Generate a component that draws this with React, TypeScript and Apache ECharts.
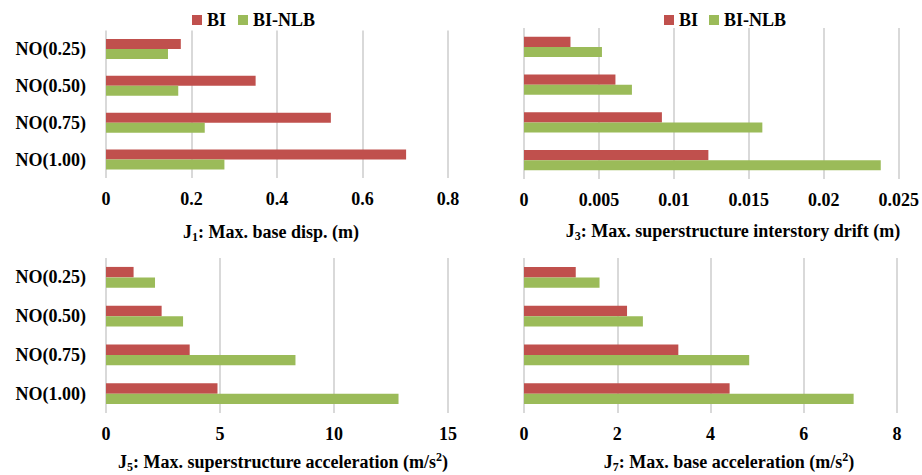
import React, { useEffect, useRef } from 'react';
import * as echarts from 'echarts';

const categories = ['NO(0.25)', 'NO(0.50)', 'NO(0.75)', 'NO(1.00)'];
const seriesNames = ['BI', 'BI-NLB'];
const j1BI = [0.175, 0.35, 0.526, 0.702];
const j1NLB = [0.145, 0.169, 0.231, 0.277];
const j3BI = [0.0031, 0.0061, 0.0092, 0.0123];
const j3NLB = [0.0052, 0.0072, 0.0159, 0.0238];
const j5BI = [1.21, 2.44, 3.67, 4.89];
const j5NLB = [2.15, 3.38, 8.31, 12.83];
const j7BI = [1.11, 2.21, 3.31, 4.41];
const j7NLB = [1.62, 2.55, 4.83, 7.07];
const axisMax = [0.8, 0.025, 15, 8];
const axisInterval = [0.2, 0.005, 5, 2];

const FONT = '"Liberation Serif", "Times New Roman", serif';
const RED = '#C0504D';
const GREEN = '#9BBB59';

export default function App() {
  const ref = useRef<HTMLDivElement>(null);
  useEffect(() => {
    document.body.style.margin = '0';
    const chart = echarts.init(ref.current!, null, { renderer: 'svg' });
    const grids = [
      { left: 106, right: 474, top: 30.5, height: 147.5 },
      { left: 524, right: 23, top: 28, height: 151 },
      { left: 106, right: 474, top: 258, height: 155 },
      { left: 524, right: 25, top: 258, height: 155 },
    ];
    const dataSets = [
      [j1BI, j1NLB],
      [j3BI, j3NLB],
      [j5BI, j5NLB],
      [j7BI, j7NLB],
    ];
    const labelStyle = { fontFamily: FONT, fontWeight: 'bold' as const, fontSize: 18, color: '#000' };
    const rich = {
      b: { ...labelStyle, lineHeight: 22 },
      sub: { fontFamily: FONT, fontWeight: 'bold' as const, fontSize: 12, color: '#000', lineHeight: 12, verticalAlign: 'bottom' as const },
      sup: { fontFamily: FONT, fontWeight: 'bold' as const, fontSize: 12, color: '#000', lineHeight: 12, verticalAlign: 'top' as const },
    };
    const titles = [
      { text: '{b|J}{sub|1}{b|: Max. base disp. (m)}', x: 271, y: 232 },
      { text: '{b|J}{sub|3}{b|: Max. superstructure interstory drift (m)}', x: 733, y: 231 },
      { text: '{b|J}{sub|5}{b|: Max. superstructure acceleration (m/s}{sup|2}{b|)}', x: 283, y: 462 },
      { text: '{b|J}{sub|7}{b|: Max. base acceleration (m/s}{sup|2}{b|)}', x: 729, y: 462 },
    ];
    const series: any[] = [];
    dataSets.forEach((pair, gi) => {
      pair.forEach((vals, si) => {
        series.push({
          type: 'bar',
          name: seriesNames[si],
          xAxisIndex: gi,
          yAxisIndex: gi,
          data: vals,
          barGap: '0%',
          barCategoryGap: '46%',
          itemStyle: { color: si === 0 ? RED : GREEN },
        });
      });
    });
    chart.setOption({
      animation: false,
      backgroundColor: '#fff',
      legend: [
        {
          data: seriesNames, left: 192, top: 11, padding: 0, itemWidth: 10, itemHeight: 10, itemGap: 12, icon: 'rect',
          textStyle: labelStyle,
        },
        {
          data: seriesNames, left: 664, top: 11, padding: 0, itemWidth: 10, itemHeight: 10, itemGap: 11, icon: 'rect',
          textStyle: labelStyle,
        },
      ],
      grid: grids,
      xAxis: grids.map((_, i) => ({
        type: 'value',
        gridIndex: i,
        min: 0,
        max: axisMax[i],
        interval: axisInterval[i],
        axisLine: { show: false },
        axisTick: { show: false },
        splitLine: { show: true, lineStyle: { color: '#D9D9D9', width: 2 } },
        axisLabel: { ...labelStyle, margin: 12 },
      })),
      yAxis: grids.map((_, i) => ({
        type: 'category',
        gridIndex: i,
        data: categories,
        inverse: true,
        axisLine: { show: false },
        axisTick: { show: false },
        splitLine: { show: false },
        axisLabel: { ...labelStyle, show: i % 2 === 0, margin: 20 },
      })),
      graphic: titles.map((t) => ({
        type: 'text',
        x: t.x,
        y: t.y,
        style: { text: t.text, rich, align: 'center', verticalAlign: 'middle' },
      })),
      series,
    });
    return () => chart.dispose();
  }, []);
  return <div ref={ref} style={{ position: 'absolute', left: 0, top: 0, width: 922, height: 475 }} />;
}
